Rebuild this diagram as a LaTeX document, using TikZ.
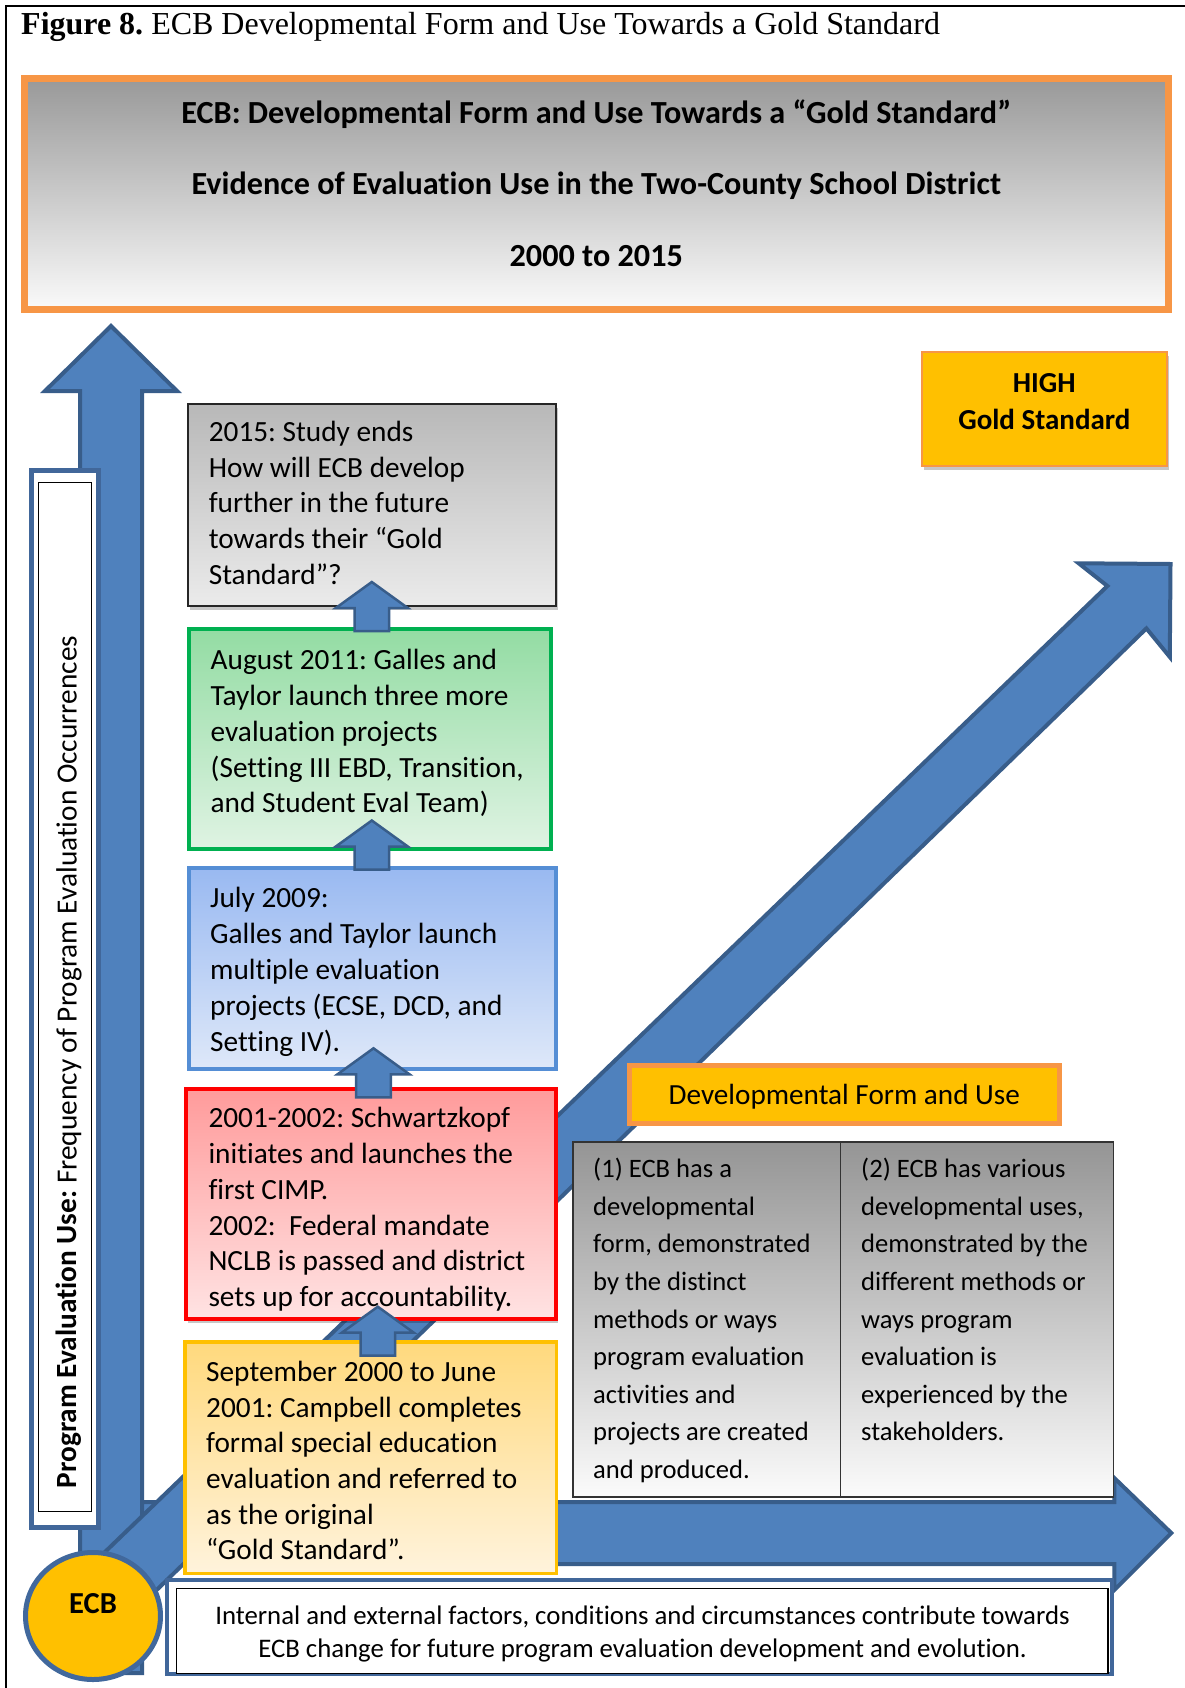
\documentclass[tikz,border=0pt]{standalone}
\usepackage{fontspec}
\setmainfont{Carlito}[Ligatures={TeX,NoCommon}]
\newfontfamily\timesfont{Liberation Serif}
\usetikzlibrary{shapes.geometric,shadows}
\frenchspacing
\definecolor{arrfill}{HTML}{4F81BD}
\definecolor{arrline}{HTML}{385D8A}
\definecolor{lblblue}{HTML}{41679A}
\definecolor{orangeb}{HTML}{F79646}
\definecolor{goldf}{HTML}{FFC000}
\definecolor{hdtop}{HTML}{999999}
\definecolor{hdbot}{HTML}{FAFAFA}
\definecolor{grtop}{HTML}{B8B8B8}
\definecolor{grbot}{HTML}{EBEBEB}
\definecolor{gnline}{HTML}{00B050}
\definecolor{gntop}{HTML}{93DCA3}
\definecolor{gnbot}{HTML}{DFF3E3}
\definecolor{blline}{HTML}{558ED5}
\definecolor{bltop}{HTML}{99B9F1}
\definecolor{blbot}{HTML}{DEE8F9}
\definecolor{rdline}{HTML}{FF0000}
\definecolor{rdtop}{HTML}{FF9B9B}
\definecolor{rdbot}{HTML}{FFE3E3}
\definecolor{ywtop}{HTML}{FFD97D}
\definecolor{ywbot}{HTML}{FFF3DC}
\definecolor{tbtop}{HTML}{959595}
\definecolor{tbbot}{HTML}{FBFBFB}
\definecolor{ecbline}{HTML}{41689C}
\newcommand{\smallup}[2]{%
  \draw[smallarr] (#1,#2) -- ++(36,26) -- ++(-18.7,0) -- ++(0,23) -- ++(-34.6,0) -- ++(0,-23) -- ++(-18.7,0) -- cycle;}
\newcommand{\fstrut}[1]{\rule{0pt}{#1pt}}
\begin{document}
\frenchspacing
\begin{tikzpicture}[x=1pt,y=-1pt,
  bigarrow/.style={fill=arrfill,draw=arrline,line width=4pt,line join=miter},
  smallarr/.style={fill=arrfill,draw=arrline,line width=2.5pt,line join=miter},
  boxnode/.style={inner sep=0pt,outer sep=0pt},
  txtblk/.style={inner sep=0pt,align=left,anchor=north west},
  shad/.style={drop shadow={shadow xshift=2pt,shadow yshift=-4pt,opacity=0.22,fill=black}},
  bodyfont/.style={font=\fontsize{29.3}{#1}\selectfont},
  tabfont/.style={font=\fontsize{26.6}{37.6}\selectfont},
  hdfont/.style={font=\bfseries\fontsize{32.2}{38}\selectfont},
]
\useasboundingbox (0,0) rectangle (1185,1688);
\fill[white] (0,0) rectangle (1185,1688);
% frame
\draw[line width=2pt] (6,1688) -- (6,6) -- (1185,6);
% title
\node[anchor=base west,inner sep=0pt,font=\timesfont\fontsize{32}{38}\selectfont] (title) at (21,35)
  {\textbf{Figure 8.} ECB Developmental Form and Use Towards a Gold Standard};
% header
\node[boxnode,draw=orangeb,line width=7pt,top color=hdtop,bottom color=hdbot,
  minimum width=1143.5,minimum height=231] (header) at (596.25,194) {};
\node[anchor=base,inner sep=0pt,hdfont] (h1) at (596.25,123.3)
  {ECB: Developmental Form and Use Towards a “Gold Standard”};
\node[anchor=base,inner sep=0pt,hdfont] (h2) at (596.25,194.3)
  {Evidence of Evaluation Use in the Two-County School District};
\node[anchor=base,inner sep=0pt,hdfont] (h3) at (596.25,266.7)
  {2000 to 2015};
% big vertical arrow
\draw[bigarrow] (111,326) -- (177,391) -- (142,391) -- (142,1673) -- (80,1673) -- (80,391) -- (45,391) -- cycle;
% vertical label
\node[boxnode,draw=lblblue,line width=5pt,fill=white,minimum width=67.7,minimum height=1057] (lblout) at (65,999) {};
\node[boxnode,draw=black,line width=1pt,fill=white,minimum width=53,minimum height=1029] (lblin) at (64.5,996.5) {};
\node[rotate=90,anchor=base,inner sep=0pt,font=\fontsize{29.3}{35}\selectfont] (lbltxt) at (76.5,1062)
  {\textbf{Program Evaluation Use:} Frequency of Program Evaluation Occurrences};
% horizontal arrow
\draw[bigarrow] (142,1502) -- (1114.3,1502) -- (1114.3,1478) -- (1171.3,1533) -- (1114.3,1590) -- (1114.3,1564) -- (142,1564) -- cycle;
% diagonal arrow
\draw[bigarrow] (1170.5,564) -- (1078.7,563.3) -- (1107.4,586) -- (90,1566.4) -- (135,1611) -- (1146.4,628.4) -- (1169.8,657) -- cycle;
% HIGH box
\node[boxnode,shad,draw=orangeb,line width=2pt,fill=goldf,minimum width=245.4,minimum height=114.5] (high) at (1044.3,408.75) {};
\node[inner sep=0pt,align=center,anchor=north,font=\bfseries\fontsize{29}{36.4}\selectfont] (hightxt) at (1044.3,367.7)
  {\fstrut{25}HIGH\\Gold Standard};
% timeline boxes
\node[boxnode,shad,draw=black!85,line width=2pt,top color=grtop,bottom color=grbot,minimum width=368,minimum height=202.4] (gray) at (371.9,504.8) {};
\node[txtblk,bodyfont=35.6] (graytxt) at (208.6,417.4)
  {\fstrut{24}2015: Study ends\\How will ECB develop\\further in the future\\towards their “Gold\\Standard”?};
\node[boxnode,draw=gnline,line width=4.5pt,top color=gntop,bottom color=gnbot,minimum width=362,minimum height=220] (green) at (370.1,738.75) {};
\node[txtblk,bodyfont=35.9] (greentxt) at (210.5,645.1)
  {\fstrut{24}August 2011: Galles and\\Taylor launch three more\\evaluation projects\\(Setting III EBD, Transition,\\and Student Eval Team)};
\node[boxnode,draw=blline,line width=4pt,top color=bltop,bottom color=blbot,minimum width=367.6,minimum height=200.7] (blue) at (372.5,968.35) {};
\node[txtblk,bodyfont=36] (bluetxt) at (210,883.7)
  {\fstrut{24}July 2009:\\Galles and Taylor launch\\multiple evaluation\\projects (ECSE, DCD, and\\Setting IV).};
\node[boxnode,shad,draw=rdline,line width=4pt,top color=rdtop,bottom color=rdbot,minimum width=370,minimum height=229.7] (red) at (371.3,1204.15) {};
\node[txtblk,bodyfont=35.7] (redtxt) at (208.3,1103.7)
  {\fstrut{24}2001-2002: Schwartzkopf\\initiates and launches the\\first CIMP.\\2002:~ Federal mandate\\NCLB is passed and district\\sets up for accountability.};
\node[boxnode,draw=goldf,line width=3.5pt,top color=ywtop,bottom color=ywbot,minimum width=371.5,minimum height=231.5] (yellow) at (370.8,1457.5) {};
\node[txtblk,bodyfont=35.7] (yellowtxt) at (206,1357.1)
  {\fstrut{24}September 2000 to June\\2001: Campbell completes\\formal special education\\evaluation and referred to\\as the original\\“Gold Standard”.};
% small arrows between boxes
\smallup{371.8}{582}
\smallup{371.8}{820.5}
\smallup{373.5}{1048.3}
\smallup{377.8}{1306.7}
% developmental form box
\node[boxnode,draw=orangeb,line width=5pt,fill=goldf,minimum width=429.6,minimum height=58.3] (dev) at (844.3,1094.35) {};
\node[anchor=base,inner sep=0pt,font=\fontsize{29.2}{35}\selectfont] (devtxt) at (844.3,1104.4) {Developmental Form and Use};
% table
\node[boxnode,draw=black!80,line width=1.5pt,top color=tbtop,bottom color=tbbot,minimum width=267.3,minimum height=355] (cellA) at (706.85,1319.65) {};
\node[boxnode,draw=black!80,line width=1.5pt,top color=tbtop,bottom color=tbbot,minimum width=273,minimum height=355] (cellB) at (977,1319.65) {};
\node[txtblk,tabfont] (cellAtxt) at (593,1155.5)
  {\fstrut{22}(1) ECB has a\\developmental\\form, demonstrated\\by the distinct\\methods or ways\\program evaluation\\activities and\\projects are created\\and produced.};
\node[txtblk,tabfont] (cellBtxt) at (861,1155.5)
  {\fstrut{22}(2) ECB has various\\developmental uses,\\demonstrated by the\\different methods or\\ways program\\evaluation is\\experienced by the\\stakeholders.};
% bottom box
\node[boxnode,draw=lblblue,line width=4pt,fill=white,minimum width=945,minimum height=94] (botout) at (639.5,1627) {};
\node[boxnode,draw=black,line width=1.2pt,fill=white,minimum width=931.3,minimum height=85] (botin) at (642.35,1630.8) {};
\node[inner sep=0pt,align=center,anchor=north,font=\fontsize{26.8}{33.3}\selectfont] (bottxt) at (642.5,1602.2)
  {\fstrut{22}Internal and external factors, conditions and circumstances contribute towards\\ECB change for future program evaluation development and evolution.};
% ECB ellipse
\node[ellipse,draw=ecbline,line width=5pt,fill=goldf,minimum width=135,minimum height=127,inner sep=0pt] (ecb) at (93,1616) {};
\node[anchor=base,inner sep=0pt,font=\bfseries\fontsize{30.5}{36}\selectfont] (ecbtxt) at (93,1613.3) {ECB};
\end{tikzpicture}
\end{document}
